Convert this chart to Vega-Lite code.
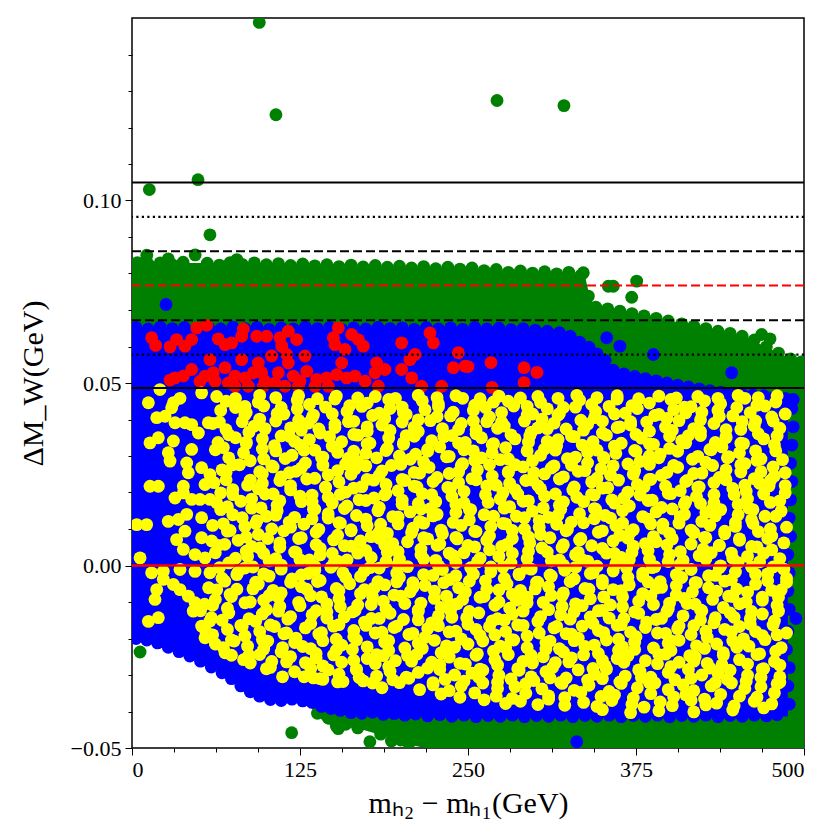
{
  "$schema": "https://vega.github.io/schema/vega-lite/v6.json",
  "description": "Delta M_W against the mass splitting of the two Higgs states",
  "autosize": {"type": "none"},
  "padding": {"left": 132, "top": 18, "right": 36, "bottom": 92},
  "width": 672,
  "height": 730,
  "background": "white",
  "config": {
    "view": {"stroke": "black", "strokeWidth": 1.5},
    "axis": {"grid": false, "domain": false, "tickColor": "black", "labelColor": "black", "titleColor": "black", "labelFont": "Liberation Serif", "titleFont": "Liberation Serif", "titleFontWeight": "normal"}
  },
  "resolve": {"axis": {"x": "independent", "y": "independent"}},
  "layer": [
    {
      "data": {"values": [
        {"x": 0, "top": 0.0829, "bottom": -0.0195},
        {"x": 21, "top": 0.0829, "bottom": -0.0209},
        {"x": 45, "top": 0.0829, "bottom": -0.0245},
        {"x": 69, "top": 0.0829, "bottom": -0.0291},
        {"x": 89, "top": 0.0829, "bottom": -0.0346},
        {"x": 106, "top": 0.0829, "bottom": -0.0365},
        {"x": 130, "top": 0.0825, "bottom": -0.0368},
        {"x": 136, "top": 0.0823, "bottom": -0.0405},
        {"x": 145, "top": 0.0823, "bottom": -0.0435},
        {"x": 170, "top": 0.082, "bottom": -0.0448},
        {"x": 190, "top": 0.0817, "bottom": -0.047},
        {"x": 205, "top": 0.0816, "bottom": -0.049},
        {"x": 218, "top": 0.0815, "bottom": -0.05},
        {"x": 255, "top": 0.0812, "bottom": -0.05},
        {"x": 274, "top": 0.0804, "bottom": -0.05},
        {"x": 318, "top": 0.0801, "bottom": -0.05},
        {"x": 337, "top": 0.0793, "bottom": -0.05},
        {"x": 341, "top": 0.073, "bottom": -0.05},
        {"x": 345, "top": 0.071, "bottom": -0.05},
        {"x": 372, "top": 0.0692, "bottom": -0.05},
        {"x": 409, "top": 0.0664, "bottom": -0.05},
        {"x": 434, "top": 0.0645, "bottom": -0.05},
        {"x": 458, "top": 0.0623, "bottom": -0.05},
        {"x": 484, "top": 0.0577, "bottom": -0.05},
        {"x": 495, "top": 0.0563, "bottom": -0.05},
        {"x": 500, "top": 0.0558, "bottom": -0.05}
      ]},
      "mark": {"type": "area", "color": "#008000", "clip": true},
      "encoding": {
        "x": {"field": "x", "type": "quantitative", "scale": {"domain": [0, 500], "nice": false, "zero": false},
          "axis": {"orient": "bottom", "values": [0, 125, 250, 375, 500], "format": "d", "tickSize": 7, "labelFontSize": 22, "labelPadding": 4, "title": "mₕ₂ − mₕ₁(GeV)", "titleFontSize": 30, "titlePadding": 8}},
        "y": {"field": "top", "type": "quantitative", "scale": {"domain": [-0.05, 0.15], "nice": false, "zero": false},
          "axis": {"orient": "left", "values": [-0.05, 0, 0.05, 0.1], "format": ".2f", "tickSize": 7, "labelFontSize": 22, "labelPadding": 4, "title": "ΔM_W(GeV)", "titleFontSize": 30, "titlePadding": 22}},
        "y2": {"field": "bottom"}
      }
    },
    {
      "data": {"values": "x,y\n94.7,0.1488\n107.1,0.1235\n271.6,0.1274\n321.4,0.126\n12.9,0.103\n49.1,0.1057\n58,0.0906\n375.5,0.0779\n371.8,0.0735\n358.1,0.0765\n354.4,0.0765\n339.5,0.0738\n335.8,0.0802\n468.5,0.0633\n474.7,0.0621\n6,-0.0237\n118.8,-0.0458\n177,-0.0483\n153.5,-0.0447\n11,0.085\n47,0.0851\n27,0.084\n78,0.0838\n4,0.083\n12,0.0826\n21,0.0829\n30,0.0824\n38,0.0831\n56,0.0828\n65,0.0823\n73,0.083\n82,0.0825\n91,0.0829\n100,0.0824\n109,0.0827\n118,0.0822\n127,0.0826\n136,0.0821\n145,0.0824\n154,0.0819\n163,0.0823\n172,0.0818\n181,0.0822\n190,0.0817\n199,0.082\n208,0.0815\n217,0.0819\n226,0.0813\n235,0.0817\n244,0.0812\n253,0.0815\n262,0.0808\n271,0.0811\n280,0.0803\n289,0.0807\n298,0.0801\n307,0.0805\n316,0.0799\n325,0.0803\n334,0.0795\n345,0.0708\n354,0.0703\n363,0.0697\n372,0.069\n381,0.0684\n390,0.0677\n399,0.067\n409,0.0662\n418,0.0656\n427,0.0649\n436,0.0642\n445,0.0636\n454,0.0628\n463,0.0618\n472,0.0599\n481,0.0582\n490,0.0566\n498,0.0558\n138,-0.0405\n146,-0.0418\n152,-0.044\n159,-0.0435\n168,-0.0445\n185,-0.0462\n193,-0.0481\n200,-0.0478\n206,-0.0488", "format": {"type": "csv", "parse": {"x": "number", "y": "number"}}},
      "mark": {"type": "circle", "color": "#008000", "size": 165, "opacity": 1, "clip": true},
      "encoding": {
        "x": {"field": "x", "type": "quantitative",
          "axis": {"orient": "bottom", "values": [31.25, 62.5, 93.75, 156.25, 187.5, 218.75, 281.25, 312.5, 343.75, 406.25, 437.5, 468.75], "labels": false, "tickSize": 4, "title": null}},
        "y": {"field": "y", "type": "quantitative",
          "axis": {"orient": "left", "values": [-0.04, -0.03, -0.02, -0.01, 0.01, 0.02, 0.03, 0.04, 0.06, 0.07, 0.08, 0.09, 0.11, 0.12, 0.13, 0.14], "labels": false, "tickSize": 4, "title": null}}
      }
    },
    {
      "data": {"values": [
        {"x": 0, "top": 0.0653, "bottom": -0.0201},
        {"x": 21, "top": 0.0653, "bottom": -0.0215},
        {"x": 45, "top": 0.0653, "bottom": -0.0251},
        {"x": 69, "top": 0.0653, "bottom": -0.0297},
        {"x": 89, "top": 0.0653, "bottom": -0.0352},
        {"x": 106, "top": 0.0653, "bottom": -0.0371},
        {"x": 132, "top": 0.0653, "bottom": -0.0371},
        {"x": 156, "top": 0.0652, "bottom": -0.0399},
        {"x": 181, "top": 0.0652, "bottom": -0.0407},
        {"x": 207, "top": 0.0652, "bottom": -0.0412},
        {"x": 298, "top": 0.0651, "bottom": -0.0414},
        {"x": 318, "top": 0.0645, "bottom": -0.0414},
        {"x": 335, "top": 0.0612, "bottom": -0.0414},
        {"x": 348, "top": 0.0577, "bottom": -0.0414},
        {"x": 359, "top": 0.053, "bottom": -0.0414},
        {"x": 378, "top": 0.0517, "bottom": -0.0414},
        {"x": 397, "top": 0.0503, "bottom": -0.0414},
        {"x": 421, "top": 0.0486, "bottom": -0.0414},
        {"x": 445, "top": 0.0473, "bottom": -0.0414},
        {"x": 467, "top": 0.0467, "bottom": -0.0414},
        {"x": 488, "top": 0.046, "bottom": -0.0414}
      ]},
      "mark": {"type": "area", "color": "#0000ff", "clip": true},
      "encoding": {
        "x": {"field": "x", "type": "quantitative", "axis": null},
        "y": {"field": "top", "type": "quantitative", "axis": null},
        "y2": {"field": "bottom"}
      }
    },
    {
      "data": {"values": "x,y\n25.3,0.0715\n330.9,-0.0483\n494,-0.0145\n353.2,0.0624\n363,0.0601\n387.9,0.0578\n446.2,0.0528\n3,0.0652\n12,0.0648\n21,0.0653\n30,0.0649\n39,0.0652\n48,0.0647\n57,0.0651\n66,0.0648\n75,0.0653\n84,0.0649\n93,0.0652\n102,0.0647\n111,0.0651\n120,0.0648\n129,0.0653\n138,0.0649\n147,0.0652\n156,0.0647\n165,0.0651\n174,0.0648\n183,0.0652\n192,0.0649\n201,0.0651\n210,0.0647\n219,0.0652\n228,0.0648\n237,0.0651\n246,0.0647\n255,0.0652\n264,0.0648\n273,0.065\n282,0.0646\n291,0.0649\n300,0.0645\n309,0.0642\n318,0.0638\n326,0.0628\n333,0.0612\n340,0.0598\n346,0.058\n352,0.0562\n358,0.0535\n366,0.0525\n374,0.0518\n382,0.0512\n390,0.0506\n398,0.05\n406,0.0494\n414,0.0489\n422,0.0484\n430,0.0479\n438,0.0475\n446,0.0472\n454,0.047\n462,0.0467\n470,0.0465\n478,0.0462\n486,0.0458\n492,0.0455\n3,-0.02\n11,-0.0204\n19,-0.0212\n27,-0.0224\n35,-0.0236\n43,-0.0248\n51,-0.0262\n59,-0.0278\n67,-0.0294\n74,-0.031\n81,-0.033\n88,-0.0346\n95,-0.0358\n103,-0.0367\n111,-0.037\n119,-0.0366\n127,-0.0371\n134,-0.0375\n141,-0.0386\n148,-0.0392\n155,-0.0397\n163,-0.0403\n171,-0.0405\n179,-0.0402\n187,-0.0408\n195,-0.0406\n203,-0.041\n211,-0.0407\n220,-0.0412\n229,-0.0409\n238,-0.0413\n247,-0.041\n256,-0.0414\n265,-0.0411\n274,-0.0413\n283,-0.041\n292,-0.0414\n301,-0.0411\n310,-0.0413\n319,-0.041\n328,-0.0414\n337,-0.0411\n346,-0.0413\n355,-0.041\n364,-0.0414\n373,-0.0411\n382,-0.0413\n391,-0.041\n400,-0.0414\n409,-0.0411\n418,-0.0413\n427,-0.041\n436,-0.0414\n445,-0.0411\n454,-0.0413\n463,-0.041\n472,-0.0412\n480,-0.0409\n489,-0.038\n488,-0.033\n489,-0.028\n487,-0.023\n488,-0.018\n489,-0.012\n488,-0.007\n489,-0.002\n488,0.003\n490,0.008\n489,0.013\n490,0.018\n491,0.023\n490,0.028\n491,0.033\n492,0.038\n491,0.043", "format": {"type": "csv", "parse": {"x": "number", "y": "number"}}},
      "mark": {"type": "circle", "color": "#0000ff", "size": 165, "opacity": 1, "clip": true},
      "encoding": {
        "x": {"field": "x", "type": "quantitative", "axis": null},
        "y": {"field": "y", "type": "quantitative", "axis": null}
      }
    },
    {
      "data": {"values": "x,y\n14.6,0.0624\n17.6,0.0603\n28.3,0.0599\n33.2,0.0619\n39.4,0.0601\n44.4,0.0619\n48.1,0.0651\n55.6,0.0658\n64.2,0.0621\n69.2,0.0605\n74.2,0.061\n82.8,0.0648\n81.6,0.0628\n92.8,0.0628\n100.2,0.0628\n110.1,0.0624\n116.3,0.0642\n122.5,0.0619\n111.4,0.0601\n115.1,0.0578\n103.9,0.0574\n94,0.0555\n81.6,0.0564\n69.2,0.0542\n60.5,0.0528\n58,0.0564\n44.4,0.0537\n38.2,0.0519\n28.3,0.0508\n50.6,0.0505\n61.8,0.0505\n71.7,0.05\n76.6,0.0519\n84.1,0.0514\n90.3,0.0528\n96.5,0.0528\n99,0.0505\n108.9,0.0528\n116.3,0.0555\n120,0.0519\n128.7,0.0574\n130,0.0532\n125,0.0505\n137.4,0.051\n144.8,0.0514\n152.3,0.0523\n159.7,0.0514\n165.9,0.0519\n173.4,0.0505\n180.8,0.0528\n182,0.0555\n188.2,0.0537\n183.3,0.0491\n153.5,0.0651\n149.8,0.0624\n158.5,0.0592\n151,0.0605\n156,0.0555\n163.4,0.0633\n168.4,0.0619\n172.1,0.0601\n200.6,0.061\n210.6,0.0578\n200.6,0.0537\n208.1,0.0514\n215.5,0.0491\n221.7,0.0637\n224.2,0.061\n242.8,0.0583\n239.1,0.0542\n247.8,0.0546\n230.4,0.0491\n206.8,0.0564\n146.1,0.0491\n136.2,0.0491\n113.8,0.0491\n106.4,0.05\n76.6,0.0491\n86.6,0.0491\n54.3,0.0519\n32,0.0514\n97.7,0.0491\n123.8,0.0491\n250,0.0545\n267.1,0.0556\n267.9,0.0488\n291.7,0.0542\n301.3,0.0529\n291.7,0.0501", "format": {"type": "csv", "parse": {"x": "number", "y": "number"}}},
      "mark": {"type": "circle", "color": "#ff0000", "size": 165, "opacity": 1, "clip": true},
      "encoding": {
        "x": {"field": "x", "type": "quantitative", "axis": null},
        "y": {"field": "y", "type": "quantitative", "axis": null}
      }
    },
    {
      "data": {"values": "x,y\n20.8,0.0482\n12.2,0.0446\n30.8,0.0446\n35.7,0.0458\n29.5,0.0432\n18.4,0.0405\n24.6,0.0409\n32,0.0391\n39.4,0.0391\n44.4,0.0386\n49.4,0.0363\n56.8,0.0391\n51.8,0.0473\n13.4,0.0336\n19.6,0.035\n30.8,0.0341\n44.4,0.0318\n27,0.0309\n28.3,0.0286\n40.7,0.0281\n41.9,0.0254\n51.8,0.0268\n58,0.0249\n54.3,0.0222\n13.4,0.0217\n19.6,0.0217\n38.2,0.0217\n32,0.0185\n38.2,0.0199\n44.4,0.0181\n50.6,0.0181\n58,0.0181\n3.5,0.0112\n10.9,0.0112\n27,0.0121\n34.5,0.0126\n40.7,0.014\n51.8,0.0131\n39.4,0.0094\n33.2,0.0071\n51.8,0.0076\n59.3,0.0067\n6,0.0021\n38.2,0.0044\n46.9,0.003\n54.3,0.0021\n14.6,-0.002\n23.3,-0.0016\n35.7,-0.0011\n46.9,-0.0016\n58,-0.002\n18.4,-0.0066\n17.1,-0.0093\n12.2,-0.0153\n19.6,-0.0143\n23.3,-0.0038\n30.8,-0.0052\n35.7,-0.0066\n41.9,-0.0084\n46.9,-0.0102\n45.6,-0.0125\n51.8,-0.0166\n54.3,-0.0198\n69.2,-0.0239\n63,0.0463\n77,0.0458\n95,0.0466\n107,0.046\n124,0.0465\n138,0.0457\n152,0.0464\n168,0.0459\n181,0.0463\n196,0.0458\n213,0.0466\n227,0.046\n241,0.0465\n259,0.0457\n273,0.0464\n289,0.0459\n302,0.0463\n317,0.0458\n331,0.0466\n346,0.046\n361,0.0465\n377,0.0457\n392,0.0464\n405,0.0459\n421,0.0463\n436,0.0458\n451,0.0466\n466,0.046\n480,0.0465\n66,0.0425\n77,0.0433\n85,0.0419\n98,0.0437\n113,0.0415\n123,0.0429\n135,0.0412\n144,0.0434\n160,0.0422\n171,0.0436\n184,0.0417\n192,0.043\n204,0.0414\n218,0.0427\n228,0.0435\n239,0.042\n254,0.0425\n263,0.0433\n275,0.0419\n284,0.0437\n298,0.0415\n309,0.0429\n317,0.0412\n330,0.0434\n345,0.0422\n355,0.0436\n367,0.0417\n376,0.043\n392,0.0414\n403,0.0427\n416,0.0435\n424,0.042\n436,0.0425\n450,0.0433\n460,0.0419\n471,0.0437\n486,0.0415\n60,0.0389\n70,0.0372\n82,0.0394\n91,0.0382\n107,0.0396\n118,0.0377\n131,0.039\n139,0.0374\n151,0.0387\n165,0.0395\n175,0.038\n186,0.0385\n201,0.0393\n210,0.0379\n222,0.0397\n231,0.0375\n245,0.0389\n256,0.0372\n264,0.0394\n277,0.0382\n292,0.0396\n302,0.0377\n314,0.039\n323,0.0374\n339,0.0387\n350,0.0395\n363,0.038\n371,0.0385\n383,0.0393\n397,0.0379\n407,0.0397\n418,0.0375\n433,0.0389\n442,0.0372\n454,0.0394\n463,0.0382\n477,0.0396\n64,0.0337\n77,0.035\n85,0.0334\n97,0.0347\n111,0.0355\n121,0.034\n132,0.0345\n147,0.0353\n156,0.0339\n168,0.0357\n177,0.0335\n191,0.0349\n202,0.0332\n210,0.0354\n223,0.0342\n238,0.0356\n248,0.0337\n260,0.035\n269,0.0334\n285,0.0347\n296,0.0355\n309,0.034\n317,0.0345\n329,0.0353\n343,0.0339\n353,0.0357\n364,0.0335\n379,0.0349\n388,0.0332\n400,0.0354\n409,0.0342\n423,0.0356\n434,0.0337\n442,0.035\n455,0.0334\n470,0.0347\n480,0.0355\n62,0.0317\n72,0.0295\n83,0.0309\n98,0.0292\n107,0.0314\n119,0.0302\n128,0.0316\n142,0.0297\n153,0.031\n161,0.0294\n174,0.0307\n189,0.0315\n199,0.03\n211,0.0305\n220,0.0313\n236,0.0299\n247,0.0317\n260,0.0295\n268,0.0309\n280,0.0292\n294,0.0314\n304,0.0302\n315,0.0316\n330,0.0297\n339,0.031\n351,0.0294\n360,0.0307\n374,0.0315\n385,0.03\n393,0.0305\n406,0.0313\n421,0.0299\n431,0.0317\n443,0.0295\n452,0.0309\n468,0.0292\n479,0.0314\n67,0.0262\n80,0.0276\n95,0.0257\n105,0.027\n117,0.0254\n126,0.0267\n142,0.0275\n153,0.026\n166,0.0265\n174,0.0273\n186,0.0259\n200,0.0277\n210,0.0255\n221,0.0269\n236,0.0252\n245,0.0274\n257,0.0262\n266,0.0276\n280,0.0257\n291,0.027\n299,0.0254\n312,0.0267\n327,0.0275\n337,0.026\n349,0.0265\n358,0.0273\n374,0.0259\n385,0.0277\n398,0.0255\n406,0.0269\n418,0.0252\n432,0.0274\n442,0.0262\n453,0.0276\n468,0.0257\n477,0.027\n486,0.0254\n61,0.0227\n70,0.0235\n86,0.022\n97,0.0225\n110,0.0233\n118,0.0219\n130,0.0237\n144,0.0215\n154,0.0229\n165,0.0212\n180,0.0234\n189,0.0222\n201,0.0236\n210,0.0217\n224,0.023\n235,0.0214\n243,0.0227\n256,0.0235\n271,0.022\n281,0.0225\n293,0.0233\n302,0.0219\n318,0.0237\n329,0.0215\n342,0.0229\n350,0.0212\n362,0.0234\n376,0.0222\n386,0.0236\n397,0.0217\n412,0.023\n421,0.0214\n433,0.0227\n442,0.0235\n456,0.022\n467,0.0225\n475,0.0233\n486,0.0219\n63,0.0172\n75,0.0194\n89,0.0182\n99,0.0196\n110,0.0177\n125,0.019\n134,0.0174\n146,0.0187\n155,0.0195\n169,0.018\n180,0.0185\n188,0.0193\n201,0.0179\n216,0.0197\n226,0.0175\n238,0.0189\n247,0.0172\n263,0.0194\n274,0.0182\n287,0.0196\n295,0.0177\n307,0.019\n321,0.0174\n331,0.0187\n342,0.0195\n357,0.018\n366,0.0185\n378,0.0193\n387,0.0179\n401,0.0197\n412,0.0175\n420,0.0189\n433,0.0172\n448,0.0194\n458,0.0182\n470,0.0196\n482,0.0177\n66,0.0153\n75,0.0139\n89,0.0157\n100,0.0135\n108,0.0149\n121,0.0132\n136,0.0154\n146,0.0142\n158,0.0156\n167,0.0137\n183,0.015\n194,0.0134\n207,0.0147\n215,0.0155\n227,0.014\n241,0.0145\n251,0.0153\n262,0.0139\n277,0.0157\n286,0.0135\n298,0.0149\n310,0.0132\n319,0.0154\n333,0.0142\n344,0.0156\n352,0.0137\n365,0.015\n380,0.0134\n390,0.0147\n402,0.0155\n411,0.014\n427,0.0145\n438,0.0153\n451,0.0139\n459,0.0157\n471,0.0135\n483,0.0149\n60,0.011\n71,0.0094\n84,0.0107\n92,0.0115\n104,0.01\n118,0.0105\n128,0.0113\n139,0.0099\n154,0.0117\n163,0.0095\n175,0.0109\n184,0.0092\n198,0.0114\n209,0.0102\n217,0.0116\n230,0.0097\n245,0.011\n255,0.0094\n267,0.0107\n276,0.0115\n292,0.01\n303,0.0105\n316,0.0113\n324,0.0099\n336,0.0117\n350,0.0095\n360,0.0109\n371,0.0092\n386,0.0114\n395,0.0102\n407,0.0116\n416,0.0097\n430,0.011\n441,0.0094\n449,0.0107\n462,0.0115\n475,0.01\n487,0.0105\n64,0.0055\n79,0.0069\n89,0.0052\n101,0.0074\n110,0.0062\n126,0.0076\n137,0.0057\n150,0.007\n158,0.0054\n170,0.0067\n184,0.0075\n194,0.006\n205,0.0065\n220,0.0073\n229,0.0059\n241,0.0077\n250,0.0055\n264,0.0069\n275,0.0052\n283,0.0074\n296,0.0062\n311,0.0076\n321,0.0057\n333,0.007\n342,0.0054\n358,0.0067\n369,0.0075\n382,0.006\n390,0.0065\n402,0.0073\n416,0.0059\n426,0.0077\n437,0.0055\n452,0.0069\n461,0.0052\n473,0.0074\n485,0.0062\n62,0.0035\n77,0.002\n86,0.0025\n98,0.0033\n107,0.0019\n121,0.0037\n132,0.0015\n140,0.0029\n153,0.0012\n168,0.0034\n178,0.0022\n190,0.0036\n199,0.0017\n215,0.003\n226,0.0014\n239,0.0027\n247,0.0035\n259,0.002\n273,0.0025\n283,0.0033\n294,0.0019\n309,0.0037\n318,0.0015\n330,0.0029\n339,0.0012\n353,0.0034\n364,0.0022\n372,0.0036\n385,0.0017\n400,0.003\n410,0.0014\n422,0.0027\n431,0.0035\n447,0.002\n458,0.0025\n470,0.0033\n482,0.0019\n65,-0.0006\n79,-0.0018\n90,-0.0004\n98,-0.0023\n111,-0.001\n126,-0.0026\n136,-0.0013\n148,-0.0005\n157,-0.002\n173,-0.0015\n184,-0.0007\n197,-0.0021\n205,-0.0003\n217,-0.0025\n231,-0.0011\n241,-0.0028\n252,-0.0006\n267,-0.0018\n276,-0.0004\n288,-0.0023\n297,-0.001\n311,-0.0026\n322,-0.0013\n330,-0.0005\n343,-0.002\n358,-0.0015\n368,-0.0007\n380,-0.0021\n389,-0.0003\n405,-0.0025\n416,-0.0011\n429,-0.0028\n437,-0.0006\n449,-0.0018\n461,-0.0004\n473,-0.0023\n485,-0.001\n57,-0.0061\n69,-0.0043\n78,-0.0065\n94,-0.0051\n105,-0.0068\n118,-0.0046\n126,-0.0058\n138,-0.0044\n152,-0.0063\n162,-0.005\n173,-0.0066\n188,-0.0053\n197,-0.0045\n209,-0.006\n218,-0.0055\n232,-0.0047\n243,-0.0061\n251,-0.0043\n264,-0.0065\n279,-0.0051\n289,-0.0068\n301,-0.0046\n310,-0.0058\n326,-0.0044\n337,-0.0063\n350,-0.005\n358,-0.0066\n370,-0.0053\n384,-0.0045\n394,-0.006\n405,-0.0055\n420,-0.0047\n429,-0.0061\n441,-0.0043\n450,-0.0065\n464,-0.0051\n476,-0.0068\n487,-0.0046\n54,-0.0106\n62,-0.0093\n74,-0.0085\n88,-0.01\n98,-0.0095\n109,-0.0087\n124,-0.0101\n133,-0.0083\n145,-0.0105\n154,-0.0091\n168,-0.0108\n179,-0.0086\n187,-0.0098\n200,-0.0084\n215,-0.0103\n225,-0.009\n237,-0.0106\n246,-0.0093\n262,-0.0085\n273,-0.01\n286,-0.0095\n294,-0.0087\n306,-0.0101\n320,-0.0083\n330,-0.0105\n341,-0.0091\n356,-0.0108\n365,-0.0086\n377,-0.0098\n386,-0.0084\n400,-0.0103\n411,-0.009\n419,-0.0106\n432,-0.0093\n447,-0.0085\n457,-0.01\n469,-0.0095\n481,-0.0087\n51,-0.0124\n59,-0.0143\n72,-0.013\n87,-0.0146\n97,-0.0133\n109,-0.0125\n118,-0.014\n134,-0.0135\n145,-0.0127\n158,-0.0141\n166,-0.0123\n178,-0.0145\n192,-0.0131\n202,-0.0148\n213,-0.0126\n228,-0.0138\n237,-0.0124\n249,-0.0143\n258,-0.013\n272,-0.0146\n283,-0.0133\n291,-0.0125\n304,-0.014\n319,-0.0135\n329,-0.0127\n341,-0.0141\n350,-0.0123\n366,-0.0145\n377,-0.0131\n390,-0.0148\n398,-0.0126\n410,-0.0138\n424,-0.0124\n434,-0.0143\n445,-0.013\n460,-0.0146\n469,-0.0133\n481,-0.0125\n55,-0.018\n71,-0.0175\n82,-0.0167\n95,-0.0181\n103,-0.0163\n115,-0.0185\n129,-0.0171\n139,-0.0188\n150,-0.0166\n165,-0.0178\n174,-0.0164\n186,-0.0183\n195,-0.017\n209,-0.0186\n220,-0.0173\n228,-0.0165\n241,-0.018\n256,-0.0175\n266,-0.0167\n278,-0.0181\n287,-0.0163\n303,-0.0185\n314,-0.0171\n327,-0.0188\n335,-0.0166\n347,-0.0178\n361,-0.0164\n371,-0.0183\n382,-0.017\n397,-0.0186\n406,-0.0173\n418,-0.0165\n427,-0.018\n441,-0.0175\n452,-0.0167\n464,-0.0181\n477,-0.0163\n487,-0.0185\n62,-0.0215\n76,-0.0207\n86,-0.0221\n97,-0.0203\n112,-0.0225\n121,-0.0211\n133,-0.0228\n142,-0.0206\n156,-0.0218\n167,-0.0204\n175,-0.0223\n188,-0.021\n203,-0.0226\n213,-0.0213\n225,-0.0205\n234,-0.022\n250,-0.0215\n261,-0.0207\n274,-0.0221\n282,-0.0203\n294,-0.0225\n308,-0.0211\n318,-0.0228\n329,-0.0206\n344,-0.0218\n353,-0.0204\n365,-0.0223\n374,-0.021\n388,-0.0226\n399,-0.0213\n407,-0.0205\n420,-0.022\n435,-0.0215\n447,-0.0207\n459,-0.0221\n471,-0.0203\n483,-0.0225\n74,-0.0246\n83,-0.0258\n95,-0.0244\n104,-0.0263\n118,-0.025\n129,-0.0266\n137,-0.0253\n150,-0.0245\n165,-0.026\n175,-0.0255\n187,-0.0247\n196,-0.0261\n212,-0.0243\n223,-0.0265\n236,-0.0251\n244,-0.0268\n256,-0.0246\n270,-0.0258\n280,-0.0244\n291,-0.0263\n306,-0.025\n315,-0.0266\n327,-0.0253\n336,-0.0245\n350,-0.026\n361,-0.0255\n369,-0.0247\n382,-0.0261\n397,-0.0243\n407,-0.0265\n419,-0.0251\n428,-0.0268\n440,-0.0246\n452,-0.0258\n465,-0.0244\n478,-0.0263\n100,-0.0283\n112,-0.0305\n121,-0.0291\n135,-0.0308\n146,-0.0286\n154,-0.0298\n167,-0.0284\n182,-0.0303\n192,-0.029\n204,-0.0306\n213,-0.0293\n229,-0.0285\n240,-0.03\n253,-0.0295\n261,-0.0287\n273,-0.0301\n287,-0.0283\n297,-0.0305\n308,-0.0291\n323,-0.0308\n332,-0.0286\n344,-0.0298\n353,-0.0284\n367,-0.0303\n378,-0.029\n386,-0.0306\n399,-0.0293\n414,-0.0285\n424,-0.03\n436,-0.0295\n445,-0.0287\n458,-0.0301\n470,-0.0283\n482,-0.0305\n128,-0.0305\n142,-0.0312\n157,-0.0318\n172,-0.0316\n186,-0.0335\n199,-0.0321\n214,-0.034\n224,-0.0327\n236,-0.0343\n245,-0.033\n261,-0.0322\n272,-0.0337\n285,-0.0332\n293,-0.0324\n305,-0.0338\n319,-0.032\n329,-0.0342\n340,-0.0328\n355,-0.0345\n364,-0.0323\n376,-0.0335\n385,-0.0321\n399,-0.034\n410,-0.0327\n418,-0.0343\n431,-0.033\n446,-0.0322\n456,-0.0337\n468,-0.0332\n480,-0.0324\n262,-0.0368\n278,-0.0378\n289,-0.0372\n302,-0.0381\n310,-0.0366\n322,-0.0383\n336,-0.0375\n346,-0.0386\n357,-0.037\n372,-0.038\n381,-0.0388\n393,-0.0374\n402,-0.0384\n416,-0.0369\n427,-0.0382\n435,-0.0377\n448,-0.0385\n463,-0.0372\n476,-0.0379\n350,-0.0395\n371,-0.0403\n392,-0.0398\n418,-0.0401\n447,-0.0396\n470,-0.039\n70,0.045\n84,0.0436\n94,0.0447\n111,0.0433\n123,0.0453\n132,0.0441\n151,0.0456\n162,0.0438\n175,0.0445\n191,0.0455\n201,0.0434\n216,0.0451\n228,0.0443\n246,0.0458\n255,0.0439\n269,0.0448\n280,0.045\n294,0.0436\n304,0.0447\n321,0.0433\n333,0.0453\n342,0.0441\n361,0.0456\n372,0.0438\n385,0.0445\n401,0.0455\n411,0.0434\n426,0.0451\n438,0.0443\n456,0.0458\n465,0.0439\n479,0.0448\n65,0.0393\n84,0.0413\n95,0.0401\n108,0.0416\n124,0.0398\n134,0.0405\n149,0.0415\n161,0.0394\n179,0.0411\n188,0.0403\n202,0.0418\n213,0.0399\n227,0.0408\n237,0.041\n254,0.0396\n266,0.0407\n275,0.0393\n294,0.0413\n305,0.0401\n318,0.0416\n334,0.0398\n344,0.0405\n359,0.0415\n371,0.0394\n389,0.0411\n398,0.0403\n412,0.0418\n423,0.0399\n437,0.0408\n447,0.041\n464,0.0396\n476,0.0407\n72,0.0358\n87,0.0365\n99,0.0375\n117,0.0354\n126,0.0371\n140,0.0363\n151,0.0378\n165,0.0359\n175,0.0368\n192,0.037\n204,0.0356\n213,0.0367\n232,0.0353\n243,0.0373\n256,0.0361\n272,0.0376\n282,0.0358\n297,0.0365\n309,0.0375\n327,0.0354\n336,0.0371\n350,0.0363\n361,0.0378\n375,0.0359\n385,0.0368\n402,0.037\n414,0.0356\n423,0.0367\n442,0.0353\n453,0.0373\n466,0.0361\n482,0.0376\n68,0.0323\n85,0.0338\n97,0.0319\n106,0.0328\n125,0.033\n136,0.0316\n149,0.0327\n165,0.0313\n175,0.0333\n190,0.0321\n202,0.0336\n220,0.0318\n229,0.0325\n243,0.0335\n254,0.0314\n268,0.0331\n278,0.0323\n295,0.0338\n307,0.0319\n316,0.0328\n335,0.033\n346,0.0316\n359,0.0327\n375,0.0313\n385,0.0333\n400,0.0321\n412,0.0336\n430,0.0318\n439,0.0325\n453,0.0335\n464,0.0314\n478,0.0331\n75,0.0276\n88,0.0287\n104,0.0273\n114,0.0293\n129,0.0281\n141,0.0296\n159,0.0278\n168,0.0285\n182,0.0295\n193,0.0274\n207,0.0291\n217,0.0283\n234,0.0298\n246,0.0279\n255,0.0288\n274,0.029\n285,0.0276\n298,0.0287\n314,0.0273\n324,0.0293\n339,0.0281\n351,0.0296\n369,0.0278\n378,0.0285\n392,0.0295\n403,0.0274\n417,0.0291\n427,0.0283\n444,0.0298\n456,0.0279\n465,0.0288\n484,0.029\n70,0.0255\n88,0.0234\n97,0.0251\n111,0.0243\n122,0.0258\n136,0.0239\n146,0.0248\n163,0.025\n175,0.0236\n184,0.0247\n203,0.0233\n214,0.0253\n227,0.0241\n243,0.0256\n253,0.0238\n268,0.0245\n280,0.0255\n298,0.0234\n307,0.0251\n321,0.0243\n332,0.0258\n346,0.0239\n356,0.0248\n373,0.025\n385,0.0236\n394,0.0247\n413,0.0233\n424,0.0253\n437,0.0241\n453,0.0256\n463,0.0238\n478,0.0245\n66,0.0199\n75,0.0208\n94,0.021\n105,0.0196\n118,0.0207\n134,0.0193\n144,0.0213\n159,0.0201\n171,0.0216\n189,0.0198\n198,0.0205\n212,0.0215\n223,0.0194\n237,0.0211\n247,0.0203\n264,0.0218\n276,0.0199\n285,0.0208\n304,0.021\n315,0.0196\n328,0.0207\n344,0.0193\n354,0.0213\n369,0.0201\n381,0.0216\n399,0.0198\n408,0.0205\n422,0.0215\n433,0.0194\n447,0.0211\n457,0.0203\n474,0.0218\n486,0.0199\n71,0.0161\n81,0.0176\n96,0.0158\n108,0.0165\n126,0.0175\n135,0.0154\n149,0.0171\n160,0.0163\n174,0.0178\n184,0.0159\n201,0.0168\n213,0.017\n222,0.0156\n241,0.0167\n252,0.0153\n265,0.0173\n281,0.0161\n291,0.0176\n306,0.0158\n318,0.0165\n336,0.0175\n345,0.0154\n359,0.0171\n370,0.0163\n384,0.0178\n394,0.0159\n411,0.0168\n423,0.017\n432,0.0156\n451,0.0167\n462,0.0153\n475,0.0173\n68,0.0114\n82,0.0131\n93,0.0123\n107,0.0138\n117,0.0119\n134,0.0128\n146,0.013\n155,0.0116\n174,0.0127\n185,0.0113\n198,0.0133\n214,0.0121\n224,0.0136\n239,0.0118\n251,0.0125\n269,0.0135\n278,0.0114\n292,0.0131\n303,0.0123\n317,0.0138\n327,0.0119\n344,0.0128\n356,0.013\n365,0.0116\n384,0.0127\n395,0.0113\n408,0.0133\n424,0.0121\n434,0.0136\n449,0.0118\n461,0.0125\n479,0.0135\n73,0.0096\n85,0.0078\n94,0.0085\n113,0.0095\n124,0.0074\n137,0.0091\n153,0.0083\n163,0.0098\n178,0.0079\n190,0.0088\n208,0.009\n217,0.0076\n231,0.0087\n242,0.0073\n256,0.0093\n266,0.0081\n283,0.0096\n295,0.0078\n304,0.0085\n323,0.0095\n334,0.0074\n347,0.0091\n363,0.0083\n373,0.0098\n388,0.0079\n400,0.0088\n418,0.009\n427,0.0076\n441,0.0087\n452,0.0073\n466,0.0093\n476,0.0081\n69,0.0058\n85,0.0039\n95,0.0048\n110,0.005\n122,0.0036\n140,0.0047\n149,0.0033\n163,0.0053\n174,0.0041\n188,0.0056\n198,0.0038\n215,0.0045\n227,0.0055\n236,0.0034\n255,0.0051\n266,0.0043\n279,0.0058\n295,0.0039\n305,0.0048\n320,0.005\n332,0.0036\n350,0.0047\n359,0.0033\n373,0.0053\n384,0.0041\n398,0.0056\n408,0.0038\n425,0.0045\n437,0.0055\n446,0.0034\n465,0.0051\n476,0.0043\n72,0.0007\n84,-0.0007\n102,0.0013\n111,0.0001\n125,0.0016\n136,-0.0002\n150,0.0005\n160,0.0015\n177,-0.0006\n189,0.0011\n198,0.0003\n217,0.0018\n228,-0.0001\n241,0.0008\n257,0.001\n267,-0.0004\n282,0.0007\n294,-0.0007\n312,0.0013\n321,0.0001\n335,0.0016\n346,-0.0002\n360,0.0005\n370,0.0015\n387,-0.0006\n399,0.0011\n408,0.0003\n427,0.0018\n438,-0.0001\n451,0.0008\n467,0.001\n477,-0.0004\n67,-0.0035\n78,-0.0025\n92,-0.0046\n102,-0.0029\n119,-0.0037\n131,-0.0022\n140,-0.0041\n159,-0.0032\n170,-0.003\n183,-0.0044\n199,-0.0033\n209,-0.0047\n224,-0.0027\n236,-0.0039\n254,-0.0024\n263,-0.0042\n277,-0.0035\n288,-0.0025\n302,-0.0046\n312,-0.0029\n329,-0.0037\n341,-0.0022\n350,-0.0041\n369,-0.0032\n380,-0.003\n393,-0.0044\n409,-0.0033\n419,-0.0047\n434,-0.0027\n446,-0.0039\n464,-0.0024\n473,-0.0042\n487,-0.0035\n63,-0.0067\n73,-0.0079\n90,-0.0064\n102,-0.0082\n111,-0.0075\n130,-0.0065\n141,-0.0086\n154,-0.0069\n170,-0.0077\n180,-0.0062\n195,-0.0081\n207,-0.0072\n225,-0.007\n234,-0.0084\n248,-0.0073\n259,-0.0087\n273,-0.0067\n283,-0.0079\n300,-0.0064\n312,-0.0082\n321,-0.0075\n340,-0.0065\n351,-0.0086\n364,-0.0069\n380,-0.0077\n390,-0.0062\n405,-0.0081\n417,-0.0072\n435,-0.007\n444,-0.0084\n458,-0.0073\n469,-0.0087\n483,-0.0067\n60,-0.0109\n71,-0.0117\n84,-0.0102\n100,-0.0121\n110,-0.0112\n125,-0.011\n137,-0.0124\n155,-0.0113\n164,-0.0127\n178,-0.0107\n189,-0.0119\n203,-0.0104\n213,-0.0122\n230,-0.0115\n242,-0.0105\n251,-0.0126\n270,-0.0109\n281,-0.0117\n294,-0.0102\n310,-0.0121\n320,-0.0112\n335,-0.011\n347,-0.0124\n365,-0.0113\n374,-0.0127\n388,-0.0107\n399,-0.0119\n413,-0.0104\n423,-0.0122\n440,-0.0115\n452,-0.0105\n461,-0.0126\n480,-0.0109\n58,-0.0152\n67,-0.015\n81,-0.0164\n92,-0.0153\n106,-0.0167\n116,-0.0147\n133,-0.0159\n145,-0.0144\n154,-0.0162\n173,-0.0155\n184,-0.0145\n197,-0.0166\n213,-0.0149\n223,-0.0157\n238,-0.0142\n250,-0.0161\n268,-0.0152\n277,-0.015\n291,-0.0164\n302,-0.0153\n316,-0.0167\n326,-0.0147\n343,-0.0159\n355,-0.0144\n364,-0.0162\n383,-0.0155\n394,-0.0145\n407,-0.0166\n423,-0.0149\n433,-0.0157\n448,-0.0142\n460,-0.0161\n478,-0.0152\n60,-0.019\n74,-0.0204\n84,-0.0193\n101,-0.0207\n113,-0.0187\n122,-0.0199\n141,-0.0184\n152,-0.0202\n165,-0.0195\n181,-0.0185\n191,-0.0206\n206,-0.0189\n218,-0.0197\n236,-0.0182\n245,-0.0201\n259,-0.0192\n270,-0.019\n284,-0.0204\n294,-0.0193\n311,-0.0207\n323,-0.0187\n332,-0.0199\n351,-0.0184\n362,-0.0202\n375,-0.0195\n391,-0.0185\n401,-0.0206\n416,-0.0189\n428,-0.0197\n446,-0.0182\n455,-0.0201\n469,-0.0192\n480,-0.019\n68,-0.0225\n87,-0.0246\n98,-0.0229\n111,-0.0237\n127,-0.0222\n137,-0.0241\n152,-0.0232\n164,-0.023\n182,-0.0244\n191,-0.0233\n205,-0.0247\n216,-0.0227\n230,-0.0239\n240,-0.0224\n257,-0.0242\n269,-0.0235\n278,-0.0225\n297,-0.0246\n308,-0.0229\n321,-0.0237\n337,-0.0222\n347,-0.0241\n362,-0.0232\n374,-0.023\n392,-0.0244\n401,-0.0233\n415,-0.0247\n426,-0.0227\n440,-0.0239\n450,-0.0224\n467,-0.0242\n479,-0.0235\n88,-0.0267\n103,-0.0279\n115,-0.0264\n133,-0.0282\n142,-0.0275\n156,-0.0265\n167,-0.0286\n181,-0.0269\n191,-0.0277\n208,-0.0262\n220,-0.0281\n229,-0.0272\n248,-0.027\n259,-0.0284\n272,-0.0273\n288,-0.0287\n298,-0.0267\n313,-0.0279\n325,-0.0264\n343,-0.0282\n352,-0.0275\n366,-0.0265\n377,-0.0286\n391,-0.0269\n401,-0.0277\n418,-0.0262\n430,-0.0281\n439,-0.0272\n458,-0.027\n469,-0.0284\n482,-0.0273\n140,-0.031\n153,-0.0319\n169,-0.0307\n179,-0.0322\n194,-0.0313\n206,-0.0309\n224,-0.0321\n233,-0.0312\n247,-0.0317\n258,-0.0306\n272,-0.032\n282,-0.0311\n299,-0.0315\n311,-0.0308\n320,-0.0323\n339,-0.0314\n350,-0.031\n363,-0.0319\n379,-0.0307\n389,-0.0322\n404,-0.0313\n416,-0.0309\n434,-0.0321\n443,-0.0312\n457,-0.0317\n468,-0.0306\n482,-0.032\n230,-0.0352\n244,-0.0361\n255,-0.0349\n271,-0.0358\n283,-0.0364\n293,-0.035\n310,-0.0357\n322,-0.0362\n334,-0.0348\n349,-0.0359\n359,-0.0355\n373,-0.0363\n386,-0.0351\n403,-0.036\n412,-0.0354\n426,-0.0366\n438,-0.0353\n452,-0.0358\n465,-0.0361\n478,-0.0349", "format": {"type": "csv", "parse": {"x": "number", "y": "number"}}},
      "mark": {"type": "circle", "color": "#ffff00", "size": 165, "opacity": 1, "clip": true},
      "encoding": {
        "x": {"field": "x", "type": "quantitative", "axis": null},
        "y": {"field": "y", "type": "quantitative", "axis": null}
      }
    },
    {
      "data": {"values": [{"y": 0.1049}, {"y": 0.0486}]},
      "mark": {"type": "rule", "color": "black", "strokeWidth": 2},
      "encoding": {"y": {"field": "y", "type": "quantitative", "axis": null}}
    },
    {
      "data": {"values": [{"y": 0.0955}, {"y": 0.0578}]},
      "mark": {"type": "rule", "color": "black", "strokeWidth": 2.2, "strokeDash": [2.2, 3.3]},
      "encoding": {"y": {"field": "y", "type": "quantitative", "axis": null}}
    },
    {
      "data": {"values": [{"y": 0.0861}, {"y": 0.0672}]},
      "mark": {"type": "rule", "color": "black", "strokeWidth": 2, "strokeDash": [9, 4]},
      "encoding": {"y": {"field": "y", "type": "quantitative", "axis": null}}
    },
    {
      "data": {"values": [{"y": 0.0767}]},
      "mark": {"type": "rule", "color": "#ff0000", "strokeWidth": 2, "strokeDash": [9, 4]},
      "encoding": {"y": {"field": "y", "type": "quantitative", "axis": null}}
    },
    {
      "data": {"values": [{"y": 0}]},
      "mark": {"type": "rule", "color": "#ff0000", "strokeWidth": 2.5},
      "encoding": {"y": {"field": "y", "type": "quantitative", "axis": null}}
    }
  ]
}
